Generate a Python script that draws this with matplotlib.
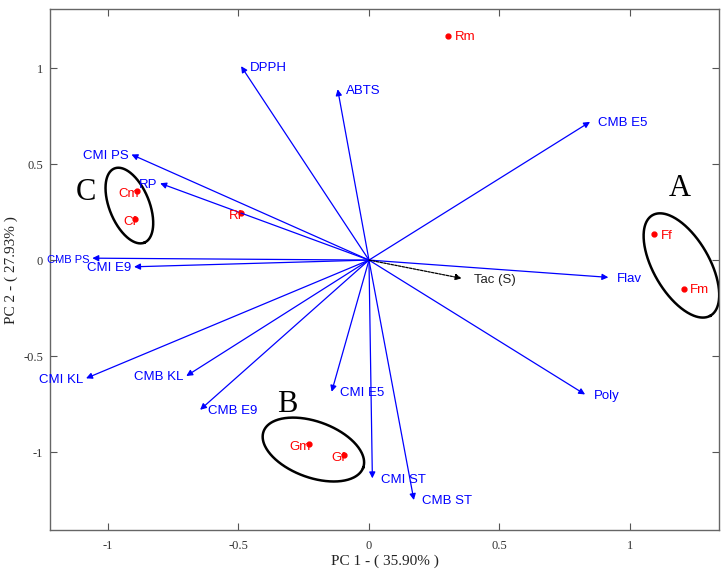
import matplotlib
matplotlib.use('Agg')
import matplotlib.pyplot as plt
import numpy as np

# variable loadings (arrow tips)
var_names = ['DPPH', 'ABTS', 'CMB E5', 'CMI PS', 'RP', 'CMB PS', 'CMI E9',
             'Flav', 'Poly', 'CMI KL', 'CMB KL', 'CMB E9', 'CMI E5',
             'CMI ST', 'CMB ST']
var_x = [-0.49, -0.12, 0.847, -0.91, -0.80, -1.06, -0.90,
         0.917, 0.828, -1.084, -0.70, -0.647, -0.143,
         0.013, 0.172]
var_y = [1.01, 0.89, 0.72, 0.55, 0.40, 0.01, -0.035,
         -0.09, -0.70, -0.616, -0.604, -0.78, -0.686,
         -1.137, -1.25]

# supplementary variable
sup_name = 'Tac (S)'
sup_x = 0.355
sup_y = -0.095

# sample scores
obs_names = ['Rm', 'Cm', 'Cf', 'Rf', 'Ff', 'Fm', 'Gm', 'Gf']
obs_x = [0.304, -0.888, -0.897, -0.49, 1.093, 1.207, -0.229, -0.095]
obs_y = [1.167, 0.36, 0.215, 0.246, 0.134, -0.149, -0.96, -1.016]

# group ellipses: centre, semi-axes (px), angle (deg)
grp_names = ['A', 'B', 'C']
grp_cx = [1.197, -0.213, -0.918]
grp_cy = [-0.028, -0.987, 0.284]
grp_a = [58, 53, 40]
grp_b = [28, 28, 20]
grp_ang = [-60, -20, -68]
grp_lx = [1.189, -0.315, -1.084]
grp_ly = [0.373, -0.75, 0.35]

left_labels = ['CMI PS', 'RP', 'CMB PS', 'CMI E9', 'CMI KL', 'CMB KL']
left_obs = ['Cm', 'Cf', 'Rf', 'Gm', 'Gf']

fig = plt.figure(figsize=(7.27, 5.74), dpi=100)
ax = fig.add_axes([0.0688, 0.0767, 0.9202, 0.9073])
ax.set_xlim(-1.222, 1.341)
ax.set_ylim(-1.406, 1.307)

sans = 'Liberation Sans'
serif = 'Liberation Serif'

for name, x, y in zip(var_names, var_x, var_y):
    ax.annotate('', xy=(x, y), xytext=(0, 0),
                arrowprops=dict(arrowstyle='-|>', color='blue', lw=0.9,
                                mutation_scale=9, shrinkA=0, shrinkB=0))
    fs = 8 if name == 'CMB PS' else 9.5
    if name in left_labels:
        ax.annotate(name, (x, y), xytext=(-2, -1), textcoords='offset points',
                    ha='right', va='center', color='blue', fontsize=fs,
                    family=sans)
    else:
        ax.annotate(name, (x, y), xytext=(6, -1), textcoords='offset points',
                    ha='left', va='center', color='blue', fontsize=fs,
                    family=sans)

ax.annotate('', xy=(sup_x, sup_y), xytext=(0, 0),
            arrowprops=dict(arrowstyle='-|>', color='black', lw=0.9,
                            linestyle=(0, (2, 1)), mutation_scale=9,
                            shrinkA=0, shrinkB=0))
ax.annotate(sup_name, (sup_x, sup_y), xytext=(9, -1), textcoords='offset points',
            ha='left', va='center', color='#222222', fontsize=9.5, family=sans)

ax.plot(obs_x, obs_y, 'o', color='red', markersize=3.5)
for name, x, y in zip(obs_names, obs_x, obs_y):
    if name in left_obs:
        ax.annotate(name, (x, y), xytext=(1, -2), textcoords='offset points',
                    ha='right', va='center', color='red', fontsize=9.5,
                    family=sans)
    else:
        ax.annotate(name, (x, y), xytext=(4.5, -1), textcoords='offset points',
                    ha='left', va='center', color='red', fontsize=9.5,
                    family=sans)

# ellipses defined in pixel-like space then mapped back to data units
sx, sy = 261.0, 192.0
t = np.linspace(0, 2 * np.pi, 300)
for cx, cy, a, b, ang in zip(grp_cx, grp_cy, grp_a, grp_b, grp_ang):
    th = np.deg2rad(ang)
    u = a * np.cos(t)
    v = b * np.sin(t)
    px = u * np.cos(th) - v * np.sin(th)
    py = u * np.sin(th) + v * np.cos(th)
    ax.plot(cx + px / sx, cy + py / sy, color='black', lw=1.8)

for name, x, y in zip(grp_names, grp_lx, grp_ly):
    ax.text(x, y, name, ha='center', va='center', fontsize=22, family=serif)

ax.set_xticks([-1, -0.5, 0, 0.5, 1])
ax.set_yticks([-1, -0.5, 0, 0.5, 1])
ax.set_xticklabels(['-1', '-0.5', '0', '0.5', '1'])
ax.set_yticklabels(['-1', '-0.5', '0', '0.5', '1'])
ax.tick_params(direction='in', top=True, right=True, length=5, width=0.8,
               color='#555555', labelcolor='#333333', labelsize=9)
ax.tick_params(axis='x', pad=7)
ax.tick_params(axis='y', pad=5)
for lab in ax.get_xticklabels() + ax.get_yticklabels():
    lab.set_family(serif)
for sp in ax.spines.values():
    sp.set_color('#666666')
    sp.set_linewidth(1.0)

ax.set_xlabel('PC 1 - ( 35.90% )', family=serif, fontsize=11, color='#222222',
              labelpad=2)
ax.set_ylabel('PC 2 - ( 27.93% )', family=serif, fontsize=11, color='#222222',
              labelpad=4)

fig.savefig('out.png', dpi=100)
